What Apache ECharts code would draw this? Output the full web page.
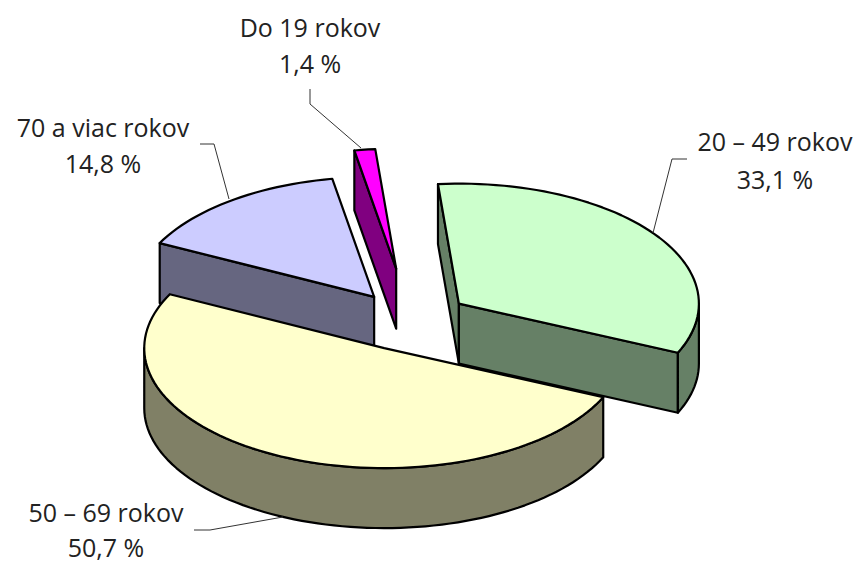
<!DOCTYPE html>
<html>
<head>
<meta charset="utf-8">
<title>Vek</title>
<style>
  html, body { margin: 0; padding: 0; background: #fff; }
  #chart { width: 863px; height: 562px; }
  /* the labels use old style figures */
  #chart text { font-variant-numeric: oldstyle-nums; font-feature-settings: "onum" 1; }
</style>
<script src="https://cdn.jsdelivr.net/npm/echarts@6/dist/echarts.min.js"></script>
</head>
<body>
<div id="chart"></div>
<script>
  // data, clockwise from the first slice
  const categories = ['20 – 49 rokov', '50 – 69 rokov', '70 a viac rokov', 'Do 19 rokov']
  const shares = [33.1, 50.7, 14.8, 1.4]
  const explode = [0.25, 0.25, 0.25, 0.44]

  // look of each slice
  const topColors = ['#ccffcc', '#ffffcc', '#ccccff', '#ff00ff']
  const sideColors = ['#668066', '#808066', '#666680', '#800080']
  const drawOrder = [2, 3, 1, 4] // back to front

  // pie geometry, the pie is tilted so a circle becomes an ellipse
  const pie = { cx: 410, cy: 321, rx: 240, ry: 120, depth: 60, startAngle: -5 }

  // label centres and leader lines
  const labelX = [775, 106, 103, 310]
  const labelY = [141, 512, 127, 27]
  const labelGap = [38, 35, 36, 36]
  const leaders = [
    [[687, 159], [672, 159], [653, 233]],
    [[194, 530], [210, 530], [283, 517]],
    [[200, 144], [214, 144], [229, 199]],
    [[310, 89], [310, 104], [361, 148]]
  ]

  const toRad = d => d * Math.PI / 180

  // first angle of every slice
  const startAngles = []
  shares.reduce((sum, v, i) => {
    startAngles[i] = pie.startAngle + sum / 100 * 360
    return sum + v
  }, 0)

  function rimPoint (apex, angle, drop) {
    return [
      apex[0] + pie.rx * Math.sin(toRad(angle)),
      apex[1] - pie.ry * Math.cos(toRad(angle)) + drop
    ]
  }

  function arcPoints (apex, from, to, drop) {
    const pts = []
    const steps = Math.max(2, Math.ceil((to - from) / 2))
    for (let i = 0; i <= steps; i++) {
      pts.push(rimPoint(apex, from + (to - from) * i / steps, drop))
    }
    return pts
  }

  function renderSlice (params, api) {
    const i = params.dataIndex
    const from = startAngles[i]
    const to = from + api.value(0) / 100 * 360
    const mid = toRad((from + to) / 2)
    const apex = [
      pie.cx + explode[i] * pie.rx * Math.sin(mid),
      pie.cy - explode[i] * pie.ry * Math.cos(mid)
    ]
    const z = drawOrder[i] * 10
    const line = { stroke: '#000', lineWidth: 2.2, lineJoin: 'round' }
    const side = Object.assign({ fill: sideColors[i] }, line)
    const low = [apex[0], apex[1] + pie.depth]
    const children = []

    // cut walls, only the ones facing the viewer
    const wall = angle => ({
      type: 'polygon',
      z2: z,
      shape: { points: [apex, rimPoint(apex, angle, 0), rimPoint(apex, angle, pie.depth), low] },
      style: side
    })
    if (Math.sin(toRad(from)) < 0) children.push(wall(from))
    if (Math.sin(toRad(to)) > 0) children.push(wall(to))

    // outer wall, only the front half of the rim shows
    const rimFrom = Math.max(from, 90)
    const rimTo = Math.min(to, 270)
    if (rimFrom < rimTo) {
      children.push({
        type: 'polygon',
        z2: z + 1,
        shape: {
          points: arcPoints(apex, rimFrom, rimTo, 0).concat(arcPoints(apex, rimFrom, rimTo, pie.depth).reverse())
        },
        style: side
      })
    }

    // top face
    children.push({
      type: 'polygon',
      z2: z + 2,
      shape: { points: [apex].concat(arcPoints(apex, from, to, 0)) },
      style: Object.assign({ fill: topColors[i] }, line)
    })

    // leader line
    children.push({
      type: 'polyline',
      z2: z + 3,
      shape: { points: leaders[i] },
      style: { stroke: '#333', lineWidth: 1, fill: null }
    })

    // label, two lines
    const text = (str, y) => ({
      type: 'text',
      z2: 100,
      style: {
        text: str,
        x: labelX[i],
        y: y,
        align: 'center',
        verticalAlign: 'middle',
        fill: '#222',
        font: '25px "Open Sans"'
      }
    })
    children.push(text(categories[i], labelY[i]))
    children.push(text(String(api.value(0)).replace('.', ',') + ' %', labelY[i] + labelGap[i]))

    return { type: 'group', children: children }
  }

  const chartInstance = echarts.init(document.getElementById('chart'), null, { renderer: 'svg' })
  chartInstance.setOption({
    animation: false,
    backgroundColor: '#fff',
    series: [
      {
        type: 'custom',
        coordinateSystem: 'none',
        renderItem: renderSlice,
        encode: { value: 0 },
        data: shares.map(v => [v])
      }
    ]
  })
</script>
</body>
</html>
